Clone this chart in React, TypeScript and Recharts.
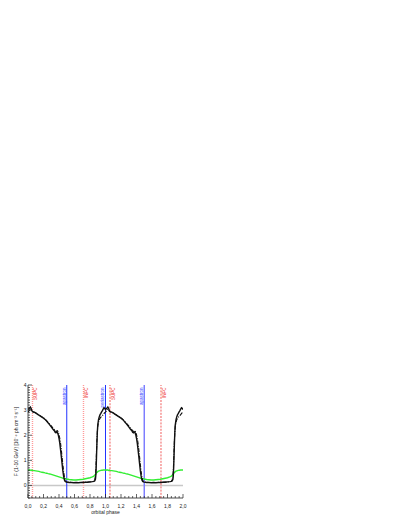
import { LineChart, Line, XAxis, YAxis, ReferenceLine } from 'recharts';

// one orbital cycle, repeated for phase 1-2
const PHASE = [
  0.0, 0.01, 0.02, 0.03, 0.04, 0.05, 0.06, 0.08, 0.1, 0.12, 0.14, 0.16, 0.18, 0.2, 0.22, 0.24, 0.26,
  0.28, 0.3, 0.32, 0.34, 0.35, 0.36, 0.37, 0.38, 0.39, 0.4, 0.41, 0.42, 0.43, 0.44, 0.45, 0.46, 0.47,
  0.48, 0.49, 0.5, 0.53, 0.56, 0.59, 0.62, 0.65, 0.68, 0.71, 0.74, 0.77, 0.8, 0.83, 0.85, 0.86, 0.87,
  0.875, 0.88, 0.885, 0.89, 0.895, 0.9, 0.91, 0.92, 0.93, 0.94, 0.95, 0.96, 0.97, 0.98, 0.99, 1.0,
];
const FLUX_SOLID = [
  3.02, 3.05, 3.08, 3.12, 3.07, 2.98, 2.94, 2.92, 2.89, 2.84, 2.8, 2.76, 2.72, 2.68, 2.63, 2.56, 2.49,
  2.41, 2.33, 2.25, 2.18, 2.12, 2.1, 2.14, 2.11, 2.02, 1.88, 1.68, 1.42, 1.15, 0.86, 0.58, 0.36, 0.22,
  0.16, 0.14, 0.13, 0.12, 0.12, 0.11, 0.12, 0.11, 0.12, 0.12, 0.13, 0.13, 0.14, 0.15, 0.16, 0.18, 0.24,
  0.4, 0.75, 1.25, 1.75, 2.15, 2.4, 2.62, 2.74, 2.82, 2.87, 2.93, 2.98, 3.04, 3.09, 3.07, 3.02,
];
const FLUX_DASHDOT = [
  2.92, 2.96, 3.0, 3.05, 3.02, 2.96, 2.93, 2.91, 2.88, 2.85, 2.81, 2.77, 2.73, 2.69, 2.64, 2.58, 2.51,
  2.44, 2.37, 2.29, 2.22, 2.17, 2.15, 2.17, 2.18, 2.12, 2.02, 1.88, 1.68, 1.42, 1.12, 0.82, 0.55, 0.33,
  0.2, 0.16, 0.14, 0.13, 0.12, 0.12, 0.12, 0.12, 0.12, 0.13, 0.13, 0.14, 0.14, 0.15, 0.17, 0.22, 0.35,
  0.6, 1.0, 1.45, 1.85, 2.15, 2.35, 2.52, 2.62, 2.68, 2.72, 2.75, 2.78, 2.82, 2.86, 2.9, 2.92,
];
const FLUX_GREEN = [
  0.62, 0.61, 0.62, 0.61, 0.6, 0.61, 0.6, 0.59, 0.58, 0.57, 0.56, 0.54, 0.53, 0.52, 0.5, 0.49, 0.47,
  0.46, 0.44, 0.42, 0.4, 0.39, 0.38, 0.37, 0.36, 0.35, 0.34, 0.33, 0.32, 0.31, 0.3, 0.29, 0.29, 0.28,
  0.27, 0.27, 0.26, 0.24, 0.23, 0.22, 0.22, 0.23, 0.24, 0.25, 0.27, 0.29, 0.31, 0.34, 0.37, 0.4, 0.44,
  0.46, 0.48, 0.5, 0.52, 0.53, 0.55, 0.57, 0.58, 0.59, 0.6, 0.61, 0.61, 0.62, 0.62, 0.62, 0.62,
];

const EVENT_PHASES = [0.058, 0.5, 0.716, 1.0, 1.058, 1.5, 1.716];
const EVENT_NAMES = ['SUPC', 'apastron', 'INFC', 'periastron', 'SUPC', 'apastron', 'INFC'];

const X_MAJOR = [0, 0.2, 0.4, 0.6, 0.8, 1.0, 1.2, 1.4, 1.6, 1.8, 2.0];
const Y_MAJOR = [0, 1, 2, 3, 4];
const X_TICKS = Array.from({ length: 41 }, (_, i) => +(i * 0.05).toFixed(2));
const Y_TICKS = Array.from({ length: 46 }, (_, i) => +(-0.5 + i * 0.1).toFixed(2));

const rows = [0, 1].flatMap((k) =>
  PHASE.map((p, i) => ({
    x: +(p + k).toFixed(3),
    solid: FLUX_SOLID[i],
    dashdot: FLUX_DASHDOT[i],
    green: FLUX_GREEN[i],
  })).filter((_, i) => k === 0 || i > 0)
);

const FONT = '"Liberation Sans", Arial, sans-serif';
const isMajor = (v: number, list: number[]) => list.some((m) => Math.abs(m - v) < 1e-6);

function BottomTick({ x, y, payload }: any) {
  const major = isMajor(payload.value, X_MAJOR);
  return (
    <g>
      <line x1={x} x2={x} y1={y} y2={y - (major ? 4 : 2)} stroke="#222" strokeWidth={0.7} />
      {major && (
        <text x={x} y={y + 9.5} textAnchor="middle" fontSize={5} fontFamily={FONT} fill="#222">
          {payload.value.toFixed(1).replace('.', ',')}
        </text>
      )}
    </g>
  );
}

function TopTick({ x, y, payload }: any) {
  const major = isMajor(payload.value, X_MAJOR);
  return <line x1={x} x2={x} y1={y} y2={y + (major ? 4 : 2)} stroke="#222" strokeWidth={0.7} />;
}

function LeftTick({ x, y, payload }: any) {
  const major = isMajor(payload.value, Y_MAJOR);
  return (
    <g>
      <line x1={x} x2={x + (major ? 4 : 2)} y1={y} y2={y} stroke="#222" strokeWidth={0.7} />
      {major && (
        <text x={x - 1.5} y={y + 1.8} textAnchor="end" fontSize={5} fontFamily={FONT} fill="#222">
          {payload.value}
        </text>
      )}
    </g>
  );
}

function RightTick({ x, y, payload }: any) {
  const major = isMajor(payload.value, Y_MAJOR);
  return <line x1={x} x2={x - (major ? 4 : 2)} y1={y} y2={y} stroke="#222" strokeWidth={0.7} />;
}

function eventLabel(name: string, color: string) {
  const right = name === 'SUPC' || name === 'INFC';
  return (props: any) => {
    const vb = props.viewBox;
    const tx = right ? vb.x + 4.8 : vb.x - 1.2;
    const ty = vb.y + 2.5;
    return (
      <text
        x={tx}
        y={ty}
        transform={`rotate(-90 ${tx} ${ty})`}
        textAnchor="end"
        fontSize={4.5}
        fontFamily={FONT}
        fill={color}
      >
        {name}
      </text>
    );
  };
}

export default function App() {
  return (
    <div style={{ position: 'absolute', left: 0, top: 0, width: 407, height: 527, background: '#fff' }}>
      <LineChart
        width={407}
        height={527}
        data={rows}
        margin={{ top: 385, right: 224, bottom: 15, left: 0 }}
      >
        <XAxis
          xAxisId="b"
          dataKey="x"
          type="number"
          domain={[0, 2]}
          allowDataOverflow
          ticks={X_TICKS}
          interval={0}
          tickLine={false}
          tickSize={0}
          tickMargin={0}
          tick={<BottomTick />}
          axisLine={{ stroke: '#222', strokeWidth: 0.8 }}
          height={14}
          label={{ value: 'orbital phase', position: 'insideBottom', offset: -2, fontSize: 5, fontFamily: FONT, fill: '#222' }}
        />
        <XAxis
          xAxisId="t"
          orientation="top"
          dataKey="x"
          type="number"
          domain={[0, 2]}
          allowDataOverflow
          ticks={X_TICKS}
          interval={0}
          tickLine={false}
          tickSize={0}
          tickMargin={0}
          tick={<TopTick />}
          axisLine={{ stroke: '#222', strokeWidth: 0.8 }}
          height={0}
        />
        <YAxis
          yAxisId="l"
          type="number"
          domain={[-0.5, 4]}
          allowDataOverflow
          ticks={Y_TICKS}
          interval={0}
          tickLine={false}
          tickSize={0}
          tickMargin={0}
          tick={<LeftTick />}
          axisLine={{ stroke: '#222', strokeWidth: 0.8 }}
          width={28}
          label={{
            value: 'F (1-10 GeV) [10⁻⁸ ph cm⁻² s⁻¹]',
            angle: -90,
            position: 'insideLeft',
            offset: 16,
            style: { textAnchor: 'middle' },
            fontSize: 5,
            fontFamily: FONT,
            fill: '#222',
          }}
        />
        <YAxis
          yAxisId="r"
          orientation="right"
          type="number"
          domain={[-0.5, 4]}
          allowDataOverflow
          ticks={Y_TICKS}
          interval={0}
          tickLine={false}
          tickSize={0}
          tickMargin={0}
          tick={<RightTick />}
          axisLine={{ stroke: '#222', strokeWidth: 0.8 }}
          width={0}
        />
        <ReferenceLine xAxisId="b" yAxisId="l" y={0} stroke="#c8c8c8" strokeWidth={1.5} />
        {EVENT_PHASES.map((p, i) => {
          const name = EVENT_NAMES[i];
          const blue = name === 'apastron' || name === 'periastron';
          const faint = p < 1;
          const color = blue ? (i === 5 ? '#7777ff' : '#2233ff') : faint ? '#ff9a9a' : '#ee3333';
          return (
            <ReferenceLine
              key={i}
              xAxisId="b"
              yAxisId="l"
              x={p}
              stroke={color}
              strokeWidth={blue ? (i === 5 ? 1.4 : 1) : faint ? 1.4 : 0.8}
              strokeDasharray={blue ? undefined : faint ? '1 1' : '2 1.2'}
              label={eventLabel(name, blue ? '#3344ff' : '#ee3333')}
            />
          );
        })}
        <Line
          xAxisId="b"
          yAxisId="l"
          dataKey="green"
          stroke="#33ee33"
          strokeWidth={1.5}
          dot={false}
          isAnimationActive={false}
        />
        <Line
          xAxisId="b"
          yAxisId="l"
          dataKey="dashdot"
          stroke="#111"
          strokeWidth={1.1}
          strokeDasharray="4 1.3 1 1.3"
          dot={false}
          isAnimationActive={false}
        />
        <Line
          xAxisId="b"
          yAxisId="l"
          dataKey="solid"
          stroke="#111"
          strokeWidth={1.4}
          dot={false}
          isAnimationActive={false}
        />
      </LineChart>
    </div>
  );
}
